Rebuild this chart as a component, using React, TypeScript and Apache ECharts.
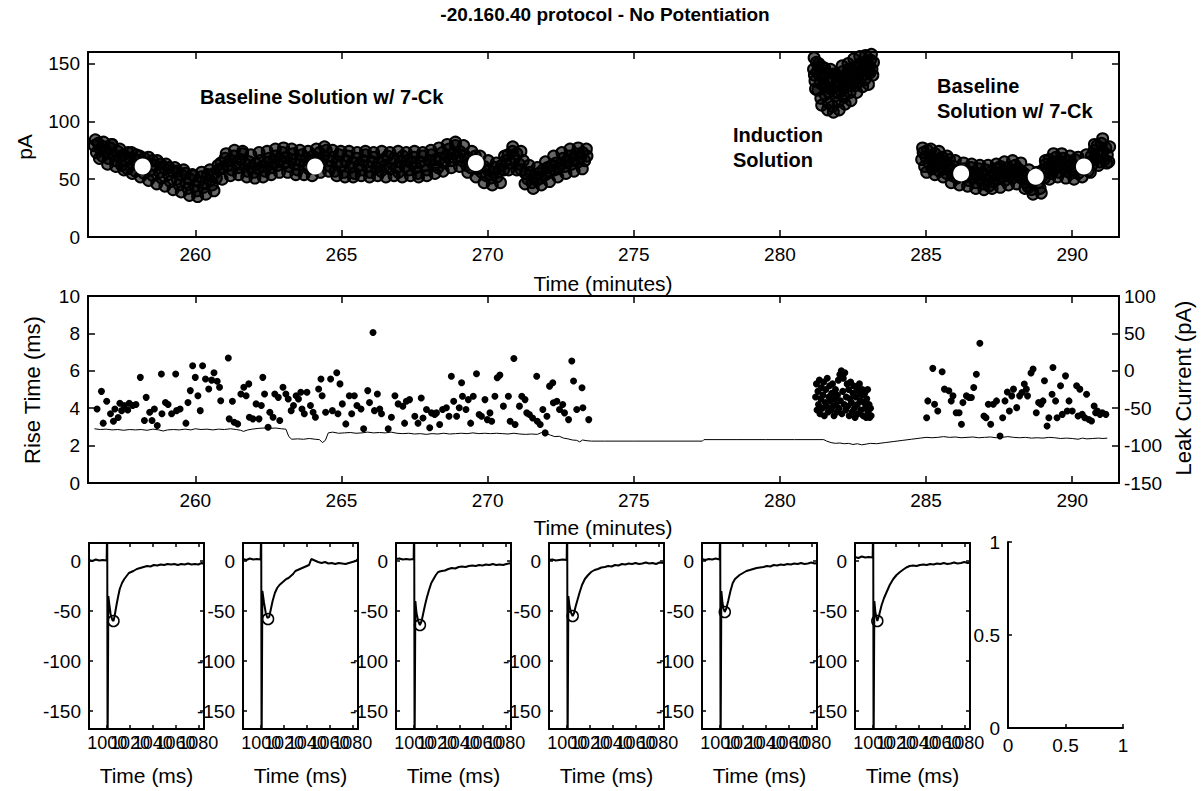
import React, { useEffect, useRef } from "react";
import * as echarts from "echarts";

const FONT = '"Liberation Sans", Arial, Helvetica, sans-serif';

// ---------- tick labels ----------
const timeTicks = [260, 265, 270, 275, 280, 285, 290];
const ampTicks = [0, 50, 100, 150];
const ampRightTicks = [50, 100, 150];
const traceTimeTicks = [1000, 1020, 1040, 1060, 1080];
const traceAmpTicks = [-150, -100, -50, 0];

const figureTitle = "-20.160.40 protocol - No Potentiation";

// ---------- top panel: EPSC amplitude (pA) vs time (minutes) ----------
const amplitudeBaseline1: [number, number][] = [
  [256.55, 79], [256.62, 73], [256.68, 81], [256.75, 76], [256.82, 70], [256.88, 78], [256.95, 74], [257.02, 68],
  [257.08, 77], [257.15, 80], [257.22, 71], [257.28, 66], [257.35, 74], [257.42, 69], [257.48, 62], [257.55, 71],
  [257.62, 66], [257.68, 59], [257.75, 68], [257.82, 73], [257.88, 63], [257.95, 57], [258.02, 66], [258.1, 70],
  [258.18, 60], [258.25, 55], [258.32, 64], [258.4, 69], [258.48, 58], [258.55, 53], [258.62, 62], [258.7, 66],
  [258.78, 56], [258.85, 51], [258.92, 60], [259.0, 63], [259.08, 54], [259.15, 48], [259.22, 57], [259.3, 60],
  [259.38, 50], [259.45, 45], [259.52, 54], [259.6, 58], [259.68, 47], [259.75, 42], [259.82, 50], [259.9, 54],
  [259.98, 44], [260.05, 40], [260.12, 48], [260.2, 52], [260.28, 43], [260.35, 47], [260.42, 54], [260.5, 49],
  [260.58, 45], [260.65, 55], [260.72, 51], [260.8, 58], [260.88, 64], [260.95, 60], [261.02, 68], [261.1, 62],
  [261.18, 66], [261.25, 58], [261.32, 70], [261.4, 64], [261.48, 60], [261.55, 67], [261.62, 72], [261.7, 63],
  [261.78, 57], [261.85, 65], [261.92, 60], [262.0, 56], [262.08, 63], [262.15, 59], [262.22, 66], [262.3, 61],
  [262.38, 57], [262.45, 64], [262.52, 68], [262.6, 60], [262.68, 65], [262.75, 70], [262.82, 62], [262.9, 67],
  [262.98, 73], [263.05, 64], [263.12, 69], [263.2, 61], [263.28, 67], [263.35, 72], [263.42, 63], [263.5, 58],
  [263.58, 66], [263.65, 71], [263.72, 62], [263.8, 68], [263.88, 59], [263.95, 65], [264.02, 70], [264.1, 62],
  [264.18, 67], [264.25, 73], [264.32, 64], [264.4, 70], [264.48, 75], [264.55, 66], [264.62, 61], [264.7, 69],
  [264.78, 57], [264.85, 65], [264.92, 71], [265.0, 62], [265.08, 56], [265.15, 66], [265.22, 70], [265.3, 60],
  [265.38, 64], [265.45, 55], [265.52, 68], [265.6, 62], [265.68, 58], [265.75, 66], [265.82, 71], [265.9, 61],
  [265.98, 56], [266.05, 65], [266.12, 69], [266.2, 60], [266.28, 64], [266.35, 57], [266.42, 67], [266.5, 62],
  [266.58, 70], [266.65, 59], [266.72, 64], [266.8, 68], [266.88, 60], [266.95, 56], [267.02, 65], [267.1, 70],
  [267.18, 61], [267.25, 66], [267.32, 58], [267.4, 64], [267.48, 69], [267.55, 60], [267.62, 55], [267.7, 65],
  [267.78, 70], [267.85, 62], [267.92, 58], [268.0, 66], [268.08, 71], [268.15, 62], [268.22, 67], [268.3, 60],
  [268.38, 68], [268.45, 73], [268.52, 64], [268.6, 70], [268.68, 76], [268.75, 66], [268.82, 72], [268.9, 79],
  [268.98, 69], [269.05, 74], [269.12, 66], [269.2, 71], [269.28, 62], [269.35, 68], [269.42, 60], [269.5, 65],
  [269.58, 70], [269.65, 59], [269.72, 63], [269.8, 56], [269.88, 61], [269.95, 53], [270.02, 58], [270.1, 51],
  [270.18, 56], [270.25, 60], [270.32, 52], [270.4, 57], [270.48, 62], [270.55, 58], [270.62, 66], [270.7, 71],
  [270.78, 64], [270.85, 74], [270.92, 68], [271.0, 72], [271.08, 63], [271.15, 58], [271.22, 66], [271.3, 55],
  [271.38, 50], [271.45, 56], [271.52, 47], [271.6, 52], [271.68, 49], [271.75, 55], [271.82, 51], [271.9, 58],
  [271.98, 54], [272.05, 60], [272.12, 56], [272.2, 62], [272.28, 58], [272.35, 64], [272.42, 59], [272.5, 63],
  [272.58, 68], [272.65, 61], [272.72, 66], [272.8, 70], [272.88, 63], [272.95, 67], [273.02, 72], [273.1, 65],
  [273.18, 69], [273.25, 73], [273.32, 66], [273.4, 70],
];

// further sweeps of the same baseline period (outer edges of the scatter band)
const amplitudeBaseline1Edges: [number, number][] = [
  [256.58, 84], [256.72, 68], [256.86, 82], [257.0, 63], [257.14, 80], [257.28, 61], [257.42, 76], [257.56, 58],
  [257.7, 73], [257.84, 55], [257.98, 71], [258.12, 52], [258.26, 68], [258.4, 49], [258.54, 66], [258.68, 46],
  [258.82, 63], [258.96, 44], [259.1, 60], [259.24, 41], [259.38, 57], [259.52, 39], [259.66, 55], [259.8, 36],
  [259.94, 53], [260.08, 35], [260.22, 56], [260.36, 37], [260.5, 58], [260.64, 40], [260.78, 62], [260.92, 50],
  [261.06, 72], [261.2, 53], [261.34, 75], [261.48, 54], [261.62, 74], [261.76, 52], [261.9, 71], [262.04, 51],
  [262.18, 73], [262.32, 52], [262.46, 74], [262.6, 54], [262.74, 76], [262.88, 56], [263.02, 77], [263.16, 56],
  [263.3, 76], [263.44, 54], [263.58, 75], [263.72, 54], [263.86, 74], [264.0, 53], [264.14, 76], [264.28, 56],
  [264.42, 78], [264.56, 57], [264.7, 75], [264.84, 53], [264.98, 74], [265.12, 52], [265.26, 74], [265.4, 52],
  [265.54, 73], [265.68, 53], [265.82, 74], [265.96, 52], [266.1, 73], [266.24, 53], [266.38, 74], [266.52, 52],
  [266.66, 73], [266.8, 53], [266.94, 74], [267.08, 52], [267.22, 73], [267.36, 53], [267.5, 74], [267.64, 52],
  [267.78, 73], [267.92, 53], [268.06, 75], [268.2, 55], [268.34, 77], [268.48, 57], [268.62, 80], [268.76, 60],
  [268.9, 82], [269.04, 61], [269.18, 79], [269.32, 56], [269.46, 74], [269.6, 52], [269.74, 70], [269.88, 47],
  [270.02, 66], [270.16, 45], [270.3, 64], [270.44, 47], [270.58, 70], [270.72, 58], [270.86, 78], [271.0, 58],
  [271.14, 74], [271.28, 46], [271.42, 62], [271.56, 42], [271.7, 60], [271.84, 45], [271.98, 65], [272.12, 48],
  [272.26, 70], [272.4, 52], [272.54, 73], [272.68, 55], [272.82, 76], [272.96, 57], [273.1, 77], [273.24, 59],
  [273.38, 76],
];

const amplitudeInduction: [number, number][] = [
  [281.15, 145], [281.18, 140], [281.2, 135], [281.25, 151], [281.28, 143], [281.3, 127], [281.35, 140], [281.38, 133],
  [281.4, 120], [281.45, 147], [281.48, 137], [281.5, 131], [281.55, 123], [281.58, 130], [281.6, 142], [281.65, 116],
  [281.68, 125], [281.7, 135], [281.75, 128], [281.78, 137], [281.8, 113], [281.85, 141], [281.88, 130], [281.9, 122],
  [281.95, 133], [281.98, 125], [282.0, 117], [282.05, 138], [282.08, 133], [282.1, 126], [282.15, 143], [282.18, 130],
  [282.2, 121], [282.25, 135], [282.28, 140], [282.3, 130], [282.35, 145], [282.38, 135], [282.4, 125], [282.45, 139],
  [282.48, 143], [282.5, 133], [282.55, 147], [282.58, 131], [282.6, 137], [282.65, 142], [282.68, 147], [282.7, 134],
  [282.75, 150], [282.78, 143], [282.8, 140], [282.85, 145], [282.88, 149], [282.9, 136], [282.95, 152], [282.98, 146],
  [283.0, 143], [283.05, 148], [283.08, 142], [283.1, 153], [283.15, 145], [283.2, 151],
  [281.17, 155], [281.22, 128], [281.33, 150], [281.43, 114], [281.53, 146], [281.63, 110], [281.73, 145], [281.83, 108],
  [281.93, 140], [282.03, 110], [282.13, 148], [282.23, 115], [282.33, 150], [282.43, 118], [282.53, 154], [282.63, 125],
  [282.73, 156], [282.83, 130], [282.93, 157], [283.03, 132], [283.13, 158], [283.18, 140],
];

const amplitudeBaseline2: [number, number][] = [
  [284.85, 67], [284.9, 73], [284.95, 61], [285.0, 69], [285.05, 75], [285.1, 64], [285.15, 70], [285.2, 59],
  [285.25, 66], [285.3, 72], [285.35, 62], [285.4, 67], [285.45, 57], [285.5, 64], [285.55, 69], [285.6, 59],
  [285.65, 65], [285.7, 55], [285.75, 62], [285.8, 67], [285.85, 57], [285.9, 53], [285.95, 61], [286.0, 56],
  [286.05, 51], [286.1, 58], [286.15, 53], [286.3, 59], [286.35, 52], [286.4, 57], [286.45, 49], [286.5, 55],
  [286.55, 60], [286.6, 51], [286.65, 56], [286.7, 47], [286.75, 54], [286.8, 59], [286.85, 50], [286.9, 55],
  [286.95, 46], [287.0, 53], [287.05, 58], [287.1, 49], [287.15, 44], [287.2, 52], [287.25, 57], [287.3, 48],
  [287.35, 53], [287.4, 59], [287.45, 50], [287.5, 55], [287.55, 61], [287.6, 52], [287.65, 57], [287.7, 49],
  [287.75, 55], [287.8, 60], [287.85, 53], [287.9, 58], [287.95, 51], [288.0, 56], [288.05, 62], [288.1, 54],
  [288.15, 59], [288.2, 52], [288.25, 57], [288.3, 50], [288.35, 55], [288.4, 47], [288.45, 53], [288.5, 43],
  [288.55, 50], [288.6, 41], [288.65, 48], [288.85, 47], [288.9, 42], [288.95, 52], [289.0, 58], [289.05, 51],
  [289.1, 63], [289.15, 57], [289.2, 67], [289.25, 61], [289.3, 55], [289.35, 65], [289.4, 59], [289.45, 69],
  [289.5, 62], [289.55, 56], [289.6, 65], [289.65, 60], [289.7, 68], [289.75, 62], [289.8, 57], [289.85, 66],
  [289.9, 61], [289.95, 55], [290.0, 63], [290.05, 58], [290.1, 67], [290.15, 60], [290.2, 55], [290.3, 59],
  [290.55, 57], [290.6, 65], [290.65, 70], [290.7, 63], [290.75, 75], [290.8, 68], [290.85, 79], [290.9, 72],
  [290.95, 65], [291.0, 81], [291.05, 74], [291.1, 67], [291.15, 77], [291.2, 71], [291.25, 65],
];

const amplitudeBaseline2Edges: [number, number][] = [
  [284.88, 77], [285.02, 56], [285.16, 76], [285.3, 54], [285.44, 74], [285.58, 52], [285.72, 70], [285.86, 47],
  [286.0, 66], [286.14, 45], [286.28, 64], [286.42, 44], [286.56, 63], [286.7, 42], [286.84, 62], [286.98, 41],
  [287.12, 62], [287.26, 42], [287.4, 63], [287.54, 43], [287.68, 65], [287.82, 45], [287.96, 66], [288.1, 46],
  [288.24, 64], [288.38, 42], [288.52, 58], [288.66, 37], [288.8, 56], [288.94, 38], [289.08, 66], [289.22, 50],
  [289.36, 72], [289.5, 52], [289.64, 72], [289.78, 51], [289.92, 70], [290.06, 50], [290.2, 69], [290.34, 52],
  [290.48, 71], [290.62, 56], [290.76, 80], [290.9, 62], [291.04, 85], [291.18, 64], [291.28, 78],
];

// sweeps shown in the bottom row
const highlightedSweeps: [number, number][] = [
  [258.2, 61], [264.1, 61], [269.6, 64], [286.2, 55], [288.75, 52], [290.4, 61],
];

// ---------- middle panel: rise time (ms) and leak current (pA) ----------
const riseBaseline1: [number, number][] = [
  [256.64, 3.96], [256.79, 4.9], [256.85, 3.2], [256.97, 4.37], [257.1, 3.7], [257.2, 3.3], [257.25, 3.96], [257.36, 3.5],
  [257.42, 4.26], [257.48, 3.87], [257.57, 4.14], [257.69, 3.9], [257.74, 4.26], [257.86, 4.14], [257.97, 4.2], [258.12, 5.65],
  [258.26, 3.34], [258.32, 4.58], [258.44, 3.78], [258.52, 3.34], [258.6, 3.96], [258.7, 3.07], [258.84, 5.83], [258.86, 3.7],
  [258.98, 4.3], [259.07, 4.2], [259.19, 3.7], [259.33, 5.83], [259.36, 3.87], [259.48, 3.96], [259.68, 3.2], [259.75, 4.3],
  [259.83, 4.94], [259.91, 6.27], [260.0, 5.65], [260.09, 4.67], [260.17, 3.87], [260.25, 6.27], [260.35, 5.56], [260.46, 5.03],
  [260.56, 5.5], [260.64, 5.9], [260.75, 5.44], [260.83, 5.12], [260.87, 4.4], [261.13, 6.68], [261.16, 3.43], [261.27, 4.37],
  [261.33, 3.25], [261.45, 3.16], [261.56, 4.76], [261.66, 5.12], [261.74, 4.67], [261.83, 5.3], [261.85, 3.52], [261.97, 3.43],
  [262.08, 4.23], [262.18, 3.43], [262.26, 4.14], [262.31, 5.65], [262.37, 4.76], [262.49, 2.98], [262.55, 3.78], [262.66, 3.52],
  [262.72, 4.76], [262.84, 4.58], [262.89, 3.34], [263.0, 5.12], [263.1, 4.76], [263.18, 4.49], [263.28, 3.87], [263.36, 4.14],
  [263.45, 4.67], [263.53, 4.49], [263.61, 4.85], [263.65, 3.96], [263.73, 3.7], [263.82, 4.85], [263.94, 4.14], [264.03, 3.78],
  [264.11, 3.52], [264.22, 5.03], [264.3, 5.56], [264.34, 4.67], [264.46, 3.78], [264.63, 5.56], [264.69, 3.87], [264.84, 5.9],
  [264.88, 3.7], [264.95, 5.3], [265.03, 4.23], [265.15, 3.16], [265.27, 4.67], [265.35, 3.7], [265.44, 4.67], [265.53, 4.14],
  [265.67, 3.96], [265.76, 2.9], [265.9, 4.94], [265.96, 4.3], [266.08, 8.05], [266.13, 3.87], [266.23, 4.76], [266.31, 3.96],
  [266.37, 3.7], [266.6, 2.9], [266.71, 3.52], [266.83, 4.67], [266.94, 4.23], [267.1, 4.1], [267.16, 3.2], [267.22, 4.37],
  [267.33, 4.46], [267.51, 3.57], [267.62, 3.2], [267.73, 4.55], [267.79, 3.48], [267.91, 3.93], [268.02, 2.95], [268.08, 3.75],
  [268.19, 3.66], [268.25, 3.75], [268.36, 3.13], [268.46, 3.93], [268.59, 4.02], [268.68, 3.57], [268.76, 5.71], [268.84, 4.37],
  [268.94, 3.57], [269.03, 4.02], [269.11, 5.36], [269.14, 4.64], [269.26, 3.93], [269.34, 4.46], [269.42, 3.2], [269.51, 4.64],
  [269.62, 5.84], [269.71, 3.66], [269.79, 3.57], [269.91, 4.46], [269.99, 3.39], [270.08, 3.75], [270.14, 3.3], [270.25, 4.64],
  [270.33, 5.63], [270.42, 5.77], [270.54, 4.11], [270.71, 4.64], [270.77, 3.3], [270.9, 6.66], [270.94, 3.13], [271.09, 4.11],
  [271.17, 4.64], [271.28, 4.46], [271.34, 3.75], [271.43, 3.66], [271.54, 3.48], [271.68, 5.71], [271.7, 3.3], [271.8, 3.13],
  [271.89, 3.93], [271.97, 2.68], [272.03, 3.57], [272.12, 5.18], [272.23, 5.36], [272.25, 4.29], [272.37, 4.37], [272.46, 3.93],
  [272.57, 4.2], [272.63, 3.75], [272.77, 3.39], [272.88, 6.52], [272.94, 5.45], [273.05, 3.93], [273.23, 5.09], [273.26, 4.02],
  [273.46, 3.39],
];

const riseInduction: [number, number][] = [
  [281.22, 4.6], [281.25, 5.3], [281.27, 3.9], [281.3, 4.9], [281.32, 4.2], [281.35, 5.5], [281.37, 3.7], [281.4, 4.5],
  [281.42, 5.1], [281.45, 4.0], [281.47, 4.7], [281.5, 5.4], [281.52, 3.6], [281.55, 4.3], [281.57, 5.0], [281.6, 4.1],
  [281.62, 5.6], [281.65, 3.8], [281.67, 4.6], [281.7, 5.2], [281.72, 4.4], [281.75, 3.9], [281.77, 4.8], [281.8, 5.3],
  [281.82, 4.1], [281.85, 3.6], [281.87, 4.5], [281.9, 5.0], [281.92, 4.2], [281.95, 3.8], [281.97, 4.7], [282.0, 5.5],
  [282.02, 4.0], [282.05, 5.8], [282.07, 4.4], [282.1, 6.0], [282.12, 3.7], [282.15, 4.9], [282.17, 5.6], [282.2, 4.2],
  [282.22, 5.9], [282.25, 3.9], [282.27, 4.6], [282.3, 5.3], [282.32, 4.1], [282.35, 5.0], [282.37, 3.6], [282.4, 4.5],
  [282.42, 5.4], [282.45, 4.3], [282.47, 3.8], [282.5, 4.8], [282.52, 5.2], [282.55, 4.0], [282.57, 3.5], [282.6, 4.6],
  [282.62, 5.1], [282.65, 4.2], [282.67, 3.7], [282.7, 4.9], [282.72, 5.3], [282.75, 4.4], [282.77, 3.9], [282.8, 4.7],
  [282.82, 5.0], [282.85, 3.6], [282.87, 4.3], [282.9, 4.8], [282.92, 4.0], [282.95, 3.5], [282.97, 4.5], [283.0, 5.0],
  [283.02, 3.8], [283.05, 4.2], [283.07, 3.5], [283.1, 4.0], [283.12, 3.6],
];

const riseBaseline2: [number, number][] = [
  [285.02, 3.49], [285.06, 4.39], [285.23, 6.13], [285.29, 4.21], [285.4, 3.85], [285.55, 5.95], [285.63, 5.02], [285.78, 4.93],
  [285.86, 4.39], [285.92, 4.66], [286.03, 3.76], [286.13, 3.76], [286.21, 3.14], [286.26, 4.3], [286.38, 4.66], [286.47, 4.57],
  [286.55, 4.57], [286.63, 5.11], [286.72, 5.82], [286.84, 7.47], [286.98, 3.58], [287.05, 3.49], [287.13, 4.21], [287.21, 3.14],
  [287.3, 4.21], [287.41, 4.39], [287.53, 2.51], [287.62, 3.49], [287.7, 4.39], [287.78, 4.87], [287.85, 3.85], [287.93, 4.66],
  [287.99, 5.02], [288.1, 4.03], [288.2, 4.66], [288.28, 4.84], [288.36, 5.29], [288.43, 5.02], [288.47, 4.66], [288.59, 5.88],
  [288.66, 6.09], [288.77, 3.76], [288.85, 4.3], [288.93, 4.21], [289.0, 4.39], [289.05, 5.47], [289.14, 3.05], [289.2, 3.49],
  [289.31, 4.75], [289.34, 6.18], [289.43, 4.39], [289.48, 3.49], [289.6, 5.2], [289.66, 3.67], [289.77, 5.73], [289.83, 3.85],
  [289.89, 4.39], [290.0, 3.85], [290.15, 5.2], [290.2, 3.58], [290.26, 5.02], [290.34, 3.67], [290.43, 3.49], [290.49, 4.75],
  [290.57, 3.4], [290.66, 3.32], [290.75, 4.12], [290.8, 3.76], [290.86, 3.85], [290.95, 3.67], [291.03, 3.76], [291.15, 3.67],
];

const leakCurrent: [number, number][] = [
  [256.55, -77.5], [256.75, -78.5], [256.95, -78], [257.15, -79], [257.35, -78.5], [257.55, -79.5], [257.75, -78.5], [257.95, -79],
  [258.15, -78.5], [258.35, -79.5], [258.55, -78], [258.75, -79], [258.9, -80.5], [259.05, -79], [259.25, -78.5], [259.45, -79],
  [259.65, -78], [259.85, -79], [260.0, -77.5], [260.2, -78.5], [260.4, -78], [260.6, -79], [260.8, -78], [261.0, -78.5],
  [261.2, -77.5], [261.4, -78.5], [261.55, -79.5], [261.65, -81], [261.8, -79], [261.95, -78], [262.15, -77], [262.35, -76.5],
  [262.55, -77], [262.75, -76.5], [262.95, -77.5], [263.1, -78], [263.2, -88], [263.3, -91.5], [263.5, -91], [263.7, -91.5],
  [263.9, -90.5], [264.1, -91.5], [264.25, -92], [264.35, -96], [264.45, -93], [264.55, -83], [264.7, -82], [264.9, -83.5],
  [265.1, -83], [265.3, -82.5], [265.5, -83.5], [265.7, -83], [265.9, -82], [266.1, -83], [266.3, -82.5], [266.5, -83],
  [266.7, -82], [266.9, -83.5], [267.1, -84], [267.3, -83.5], [267.5, -84.5], [267.7, -84], [267.9, -85], [268.1, -84],
  [268.3, -84.5], [268.5, -83.5], [268.7, -84.5], [268.9, -84], [269.1, -83.5], [269.3, -84], [269.5, -83], [269.7, -84],
  [269.9, -83.5], [270.1, -84], [270.3, -83.5], [270.5, -84], [270.7, -84.5], [270.9, -83.5], [271.1, -84.5], [271.3, -85],
  [271.5, -84.5], [271.7, -85], [271.85, -82.5], [272.0, -84], [272.15, -86], [272.3, -88], [272.45, -87.5], [272.6, -90],
  [272.75, -91], [272.9, -92.5], [273.05, -93], [273.15, -95], [273.25, -92.5], [273.4, -93.5], [273.55, -94], [274.0, -94],
  [275.0, -94], [276.0, -94], [277.35, -94], [277.4, -92], [278.5, -92], [279.5, -92], [280.5, -92], [281.5, -92],
  [281.6, -94], [281.75, -96], [281.9, -97], [282.05, -96.5], [282.2, -97.5], [282.35, -97], [282.5, -98.5], [282.65, -97.5],
  [282.8, -99], [282.95, -98], [283.1, -97], [283.3, -97.5], [283.6, -96], [283.9, -94.5], [284.2, -93], [284.5, -91.5],
  [284.8, -90], [285.0, -89], [285.2, -89.5], [285.4, -89], [285.6, -88], [285.8, -89], [286.0, -88.5], [286.2, -89.5],
  [286.4, -89], [286.6, -88.5], [286.8, -89.5], [287.0, -89], [287.2, -88.5], [287.4, -89.5], [287.6, -89], [287.8, -88],
  [288.0, -89], [288.2, -89.5], [288.4, -89], [288.6, -90], [288.8, -89.5], [289.0, -90], [289.2, -89], [289.4, -89.5],
  [289.6, -90.5], [289.8, -90], [290.0, -90.5], [290.2, -91.5], [290.35, -90], [290.5, -91], [290.7, -90.5], [290.9, -90],
  [291.05, -90.5], [291.2, -90],
];

// ---------- bottom row: individual sweeps, current (pA) vs time (ms) ----------
const trace1: [number, number][] = [
  [984, 1], [987, 0], [990, 1.5], [993, 0.5], [996, 1], [999.5, 0.5], [1000, 40], [1000.3, -200], [1000.8, -200],
  [1001, -35], [1002, -45], [1003, -53], [1004.5, -59], [1005.5, -60], [1006.5, -55], [1008, -45], [1009.5, -36],
  [1011, -28], [1013, -22], [1015, -18], [1017, -15], [1019, -12], [1021, -11], [1023, -10], [1026, -8], [1029, -7],
  [1032, -6], [1035, -5], [1038, -5.5], [1041, -4], [1044, -4.5], [1047, -3.5], [1050, -4], [1053, -3], [1056, -3.5],
  [1059, -3], [1062, -4], [1065, -3], [1068, -3.5], [1071, -2.5], [1074, -3.5], [1077, -3], [1080, -3.5], [1083, -2], [1085, -3],
];
const trace2: [number, number][] = [
  [984, 2], [987, 1], [990, 2.5], [993, 1.5], [996, 2], [999.5, 1.5], [1000, 40], [1000.3, -200], [1000.8, -200],
  [1001, -30], [1002.5, -42], [1004, -52], [1005.5, -57], [1007, -56], [1008.5, -48], [1010, -40], [1012, -32],
  [1014, -27], [1016, -24], [1018, -22], [1020, -20], [1022, -18], [1024, -17], [1026, -15], [1028, -13], [1030, -10],
  [1032, -9], [1034, -8], [1036, -7], [1038, -6], [1040, -5], [1042, -4], [1044, 2], [1046, 1], [1048, 0], [1050, -1],
  [1053, -2], [1056, -1], [1059, -2.5], [1062, -2], [1065, -3], [1068, -2], [1071, -2.5], [1074, -3], [1077, -2],
  [1080, -1], [1083, 0], [1085, 2],
];
const trace3: [number, number][] = [
  [984, 2], [987, 2.5], [990, 1.5], [993, 2], [996, 1.5], [999.5, 2], [1000, 40], [1000.3, -200], [1000.8, -200],
  [1001, -40], [1002, -52], [1003.5, -60], [1005, -64], [1006.5, -60], [1008, -52], [1009.5, -44], [1011, -37],
  [1013, -29], [1015, -22], [1017, -18], [1019, -14], [1021, -11], [1024, -10], [1027, -9.5], [1030, -8], [1033, -7],
  [1036, -7.5], [1039, -6], [1042, -5.5], [1045, -6], [1048, -5], [1051, -4.5], [1054, -5], [1057, -4], [1060, -4.5],
  [1063, -3.5], [1066, -4], [1069, -3], [1072, -4], [1075, -3.5], [1078, -4], [1081, -3], [1085, -2],
];
const trace4: [number, number][] = [
  [984, 1], [987, 1.5], [990, 0.5], [993, 1], [996, 1.5], [999.5, 1], [1000, 40], [1000.3, -200], [1000.8, -200],
  [1001, -35], [1002, -45], [1003.5, -52], [1004.8, -55], [1006, -52], [1007.5, -45], [1009, -39], [1011, -31],
  [1013, -24], [1015.5, -18], [1018, -14.5], [1021, -11], [1024, -9], [1027, -8], [1030, -6.5], [1033, -6], [1036, -5],
  [1039, -5.5], [1042, -4], [1045, -4.5], [1048, -3], [1051, -3.5], [1054, -2.5], [1057, -3], [1060, -2], [1063, -3],
  [1066, -2.5], [1069, -1.5], [1072, -2.5], [1075, -2], [1078, -3], [1081, -1.5], [1085, -2],
];
const trace5: [number, number][] = [
  [984, 2], [987, 1], [990, 2], [993, 1.5], [996, 2.5], [999.5, 1.5], [1000, 40], [1000.3, -200], [1000.8, -200],
  [1001, -30], [1002, -42], [1003, -48], [1004, -51], [1005.5, -47], [1007, -40], [1009, -30], [1011, -22], [1013, -18],
  [1015, -16], [1017, -14], [1020, -12], [1023, -10], [1026, -9], [1029, -8], [1032, -7], [1035, -6.5], [1038, -6],
  [1041, -5], [1044, -5.5], [1047, -4], [1050, -4.5], [1053, -3.5], [1056, -4], [1059, -3], [1062, -3.5], [1065, -2.5],
  [1068, -3], [1071, -2], [1074, -3], [1077, -2.5], [1080, -1.5], [1083, -2.5], [1085, -2],
];
const trace6: [number, number][] = [
  [984, 4], [987, 3], [990, 4.5], [993, 3.5], [996, 4], [999.5, 3.5], [1000, 40], [1000.3, -200], [1000.8, -200],
  [1001, -40], [1002, -52], [1003.6, -60], [1005, -55], [1007.4, -44], [1009.5, -37], [1011.8, -31], [1014.5, -24],
  [1017.6, -18], [1020.5, -14], [1023.5, -11], [1026.5, -8.5], [1029, -6.5], [1032, -5], [1035, -4.5], [1038, -5],
  [1041, -4], [1044, -3.5], [1047, -4], [1050, -3], [1053, -3.5], [1056, -2.5], [1059, -3], [1062, -2], [1065, -3],
  [1068, -2.5], [1071, -1.5], [1074, -2.5], [1077, -2], [1080, -1], [1083, -2], [1085, -1.5],
];
const traces = [trace1, trace2, trace3, trace4, trace5, trace6];
const tracePeaks: [number, number][] = [
  [1005.5, -60], [1006, -58], [1005, -64], [1004.8, -55], [1004, -51], [1003.6, -60],
];

// ---------- layout ----------
const smallLefts = [89, 243, 396, 549, 702, 855];
const emptyLeft = 1008;
const SMALL_TOP = 543;
const SMALL_H = 186;
const SMALL_W = 115;
const TRACE_MIN_T = 984;
const TRACE_MAX_T = 1085;
const TRACE_MIN_A = -168;
const TRACE_MAX_A = 18;

const AX_LINE = { color: "#000", width: 2 };
const TICK_LINE = { color: "#000", width: 1.5 };
const lbl = (size: number) => ({ color: "#000", fontFamily: FONT, fontSize: size });

function valueAxis(o: any) {
  return {
    type: "value",
    splitLine: { show: false },
    ...o,
    axisLine: { show: true, onZero: false, lineStyle: AX_LINE },
  };
}

const txt = (text: string, x: number, y: number, size: number, opts: any = {}) => ({
  type: "text", x, y, silent: true, rotation: opts.rotation || 0,
  style: {
    text, fill: "#000", fontFamily: FONT, fontSize: size, fontWeight: opts.bold ? "bold" : "normal",
    align: opts.align || "center", verticalAlign: opts.valign || "middle",
  },
});

function baseGraphic(): any[] {
  const g: any[] = [
    txt(figureTitle, 605, 14, 19, { bold: true }),
    txt("pA", 24, 147, 21, { rotation: Math.PI / 2 }),
    txt("Time (minutes)", 603, 283, 21),
    txt("Rise Time (ms)", 32, 390, 22, { rotation: Math.PI / 2 }),
    txt("Leak Current (pA)", 1183, 388, 22, { rotation: Math.PI / 2 }),
    txt("Time (minutes)", 603, 527, 21),
    txt("Baseline Solution w/ 7-Ck", 200, 97, 20, { bold: true, align: "left" }),
    txt("Induction", 733, 135, 20, { bold: true, align: "left" }),
    txt("Solution", 733, 160, 20, { bold: true, align: "left" }),
    txt("Baseline", 937, 86, 20, { bold: true, align: "left" }),
    txt("Solution w/ 7-Ck", 937, 111, 20, { bold: true, align: "left" }),
  ];
  smallLefts.forEach((l) => g.push(txt("Time (ms)", l + SMALL_W / 2, 775, 21)));
  return g;
}

function buildOption() {
  const grid: any[] = [
    { left: 88, top: 52, width: 1031, height: 185, outerBoundsMode: "none" },
    { left: 88, top: 296, width: 1031, height: 187, outerBoundsMode: "none" },
  ];
  smallLefts.forEach((l) => grid.push({ left: l, top: SMALL_TOP, width: SMALL_W, height: SMALL_H, outerBoundsMode: "none" }));
  grid.push({ left: emptyLeft, top: SMALL_TOP - 1, width: SMALL_W, height: SMALL_H, outerBoundsMode: "none" });

  const mainX = (gridIndex: number, position: string, show: boolean) =>
    valueAxis({
      gridIndex, position, min: 256.33, max: 291.6,
      axisTick: { show: true, inside: true, length: 7, customValues: timeTicks, lineStyle: TICK_LINE },
      axisLabel: { show, customValues: timeTicks, margin: 8, ...lbl(19) },
    });

  const xAxis: any[] = [mainX(0, "bottom", true), mainX(0, "top", false), mainX(1, "bottom", true), mainX(1, "top", false)];
  const yAxis: any[] = [
    valueAxis({
      gridIndex: 0, position: "left", min: 0, max: 160,
      axisTick: { show: true, inside: true, length: 7, customValues: ampTicks, lineStyle: TICK_LINE },
      axisLabel: { customValues: ampTicks, margin: 8, ...lbl(19) },
    }),
    valueAxis({
      gridIndex: 0, position: "right", min: 0, max: 160,
      axisTick: { show: true, inside: true, length: 7, customValues: ampRightTicks, lineStyle: TICK_LINE },
      axisLabel: { show: false },
    }),
    valueAxis({
      gridIndex: 1, position: "left", min: 0, max: 10, interval: 2,
      axisTick: { show: true, inside: true, length: 7, lineStyle: TICK_LINE },
      axisLabel: { margin: 8, ...lbl(19) },
    }),
    valueAxis({
      gridIndex: 1, position: "right", min: -150, max: 100, interval: 50,
      axisTick: { show: true, inside: true, length: 7, lineStyle: TICK_LINE },
      axisLabel: { margin: 5, ...lbl(19) },
    }),
  ];

  smallLefts.forEach((_, i) => {
    const g = 2 + i;
    xAxis.push(
      valueAxis({
        gridIndex: g, position: "bottom", min: TRACE_MIN_T, max: TRACE_MAX_T,
        axisTick: { show: true, inside: true, length: 4, customValues: traceTimeTicks, lineStyle: TICK_LINE },
        axisLabel: { show: false },
      }),
      valueAxis({
        gridIndex: g, position: "top", min: TRACE_MIN_T, max: TRACE_MAX_T,
        axisTick: { show: true, inside: true, length: 4, customValues: traceTimeTicks, lineStyle: TICK_LINE },
        axisLabel: { show: false },
      })
    );
    yAxis.push(
      valueAxis({
        gridIndex: g, position: "left", min: TRACE_MIN_A, max: TRACE_MAX_A,
        axisTick: { show: true, inside: true, length: 4, customValues: traceAmpTicks, lineStyle: TICK_LINE },
        axisLabel: { customValues: traceAmpTicks, margin: 8, ...lbl(19) },
      }),
      valueAxis({
        gridIndex: g, position: "right", min: TRACE_MIN_A, max: TRACE_MAX_A,
        axisTick: { show: true, inside: true, length: 4, customValues: traceAmpTicks, lineStyle: TICK_LINE },
        axisLabel: { show: false },
      })
    );
  });

  // empty axes
  xAxis.push(
    valueAxis({
      gridIndex: 8, position: "bottom", min: 0, max: 1, interval: 0.5,
      axisTick: { show: true, inside: true, length: 4, lineStyle: TICK_LINE },
      axisLabel: { margin: 8, ...lbl(19) },
    })
  );
  yAxis.push(
    valueAxis({
      gridIndex: 8, position: "left", min: 0, max: 1, interval: 0.5,
      axisTick: { show: true, inside: true, length: 4, lineStyle: TICK_LINE },
      axisLabel: { margin: 8, ...lbl(19) },
    })
  );

  const hollow = { color: "rgba(0,0,0,0.6)", borderColor: "#000", borderWidth: 2, opacity: 1 };
  const ampSeries = (name: string, data: [number, number][]) => ({
    type: "scatter", name, xAxisIndex: 0, yAxisIndex: 0, data, symbol: "circle", symbolSize: 11, itemStyle: hollow, silent: true,
  });
  const dots = (name: string, data: [number, number][]) => ({
    type: "scatter", name, xAxisIndex: 2, yAxisIndex: 2, data, symbol: "circle", symbolSize: 7, itemStyle: { color: "#000", opacity: 1 }, silent: true,
  });
  const series: any[] = [
    ampSeries("Baseline amplitude", amplitudeBaseline1),
    ampSeries("Baseline amplitude (edges)", amplitudeBaseline1Edges),
    ampSeries("Induction amplitude", amplitudeInduction),
    ampSeries("Baseline amplitude 2", amplitudeBaseline2),
    ampSeries("Baseline amplitude 2 (edges)", amplitudeBaseline2Edges),
    { type: "scatter", name: "Shown sweeps", xAxisIndex: 0, yAxisIndex: 0, data: highlightedSweeps, symbol: "circle", symbolSize: 16, z: 5, itemStyle: { color: "#fff", opacity: 1 }, silent: true },
    { type: "line", name: "Leak current", xAxisIndex: 2, yAxisIndex: 3, data: leakCurrent, showSymbol: false, lineStyle: { color: "#000", width: 1 }, silent: true },
    dots("Rise time", riseBaseline1),
    dots("Rise time induction", riseInduction),
    dots("Rise time 2", riseBaseline2),
  ];
  traces.forEach((tr, i) => {
    series.push({
      type: "line", name: "Sweep " + (i + 1), xAxisIndex: 4 + 2 * i, yAxisIndex: 4 + 2 * i, data: tr,
      showSymbol: false, clip: true, lineStyle: { color: "#000", width: 2 }, silent: true,
    });
    series.push({
      type: "scatter", name: "Peak " + (i + 1), xAxisIndex: 4 + 2 * i, yAxisIndex: 4 + 2 * i, data: [tracePeaks[i]],
      symbol: "circle", symbolSize: 11, itemStyle: { color: "rgba(0,0,0,0)", borderColor: "#000", borderWidth: 1.5, opacity: 1 }, silent: true,
    });
  });
  series.push({ type: "scatter", xAxisIndex: 16, yAxisIndex: 16, data: [], silent: true });

  return { animation: false, backgroundColor: "#fff", grid, xAxis, yAxis, series, graphic: baseGraphic() };
}

export default function App() {
  const ref = useRef<HTMLDivElement>(null);
  useEffect(() => {
    if (!ref.current) return;
    const chart = echarts.init(ref.current, null, { renderer: "svg" });
    chart.setOption(buildOption());
    // tick labels of the sweep panels: placed with the axes' own scales; they overlap as in the original
    const extra: any[] = [];
    smallLefts.forEach((_, i) => {
      traceTimeTicks.forEach((v) => {
        const p = chart.convertToPixel({ xAxisIndex: 4 + 2 * i, yAxisIndex: 4 + 2 * i } as any, [v, TRACE_MIN_A]) as number[];
        if (p) extra.push(txt(String(v), p[0], p[1] + 5, 18, { valign: "top" }));
      });
    });
    chart.setOption({ graphic: [...baseGraphic(), ...extra] });
    return () => chart.dispose();
  }, []);
  return (
    <div
      ref={ref}
      style={{ position: "fixed", left: 0, top: 0, width: 1204, height: 791, background: "#fff" }}
    />
  );
}
